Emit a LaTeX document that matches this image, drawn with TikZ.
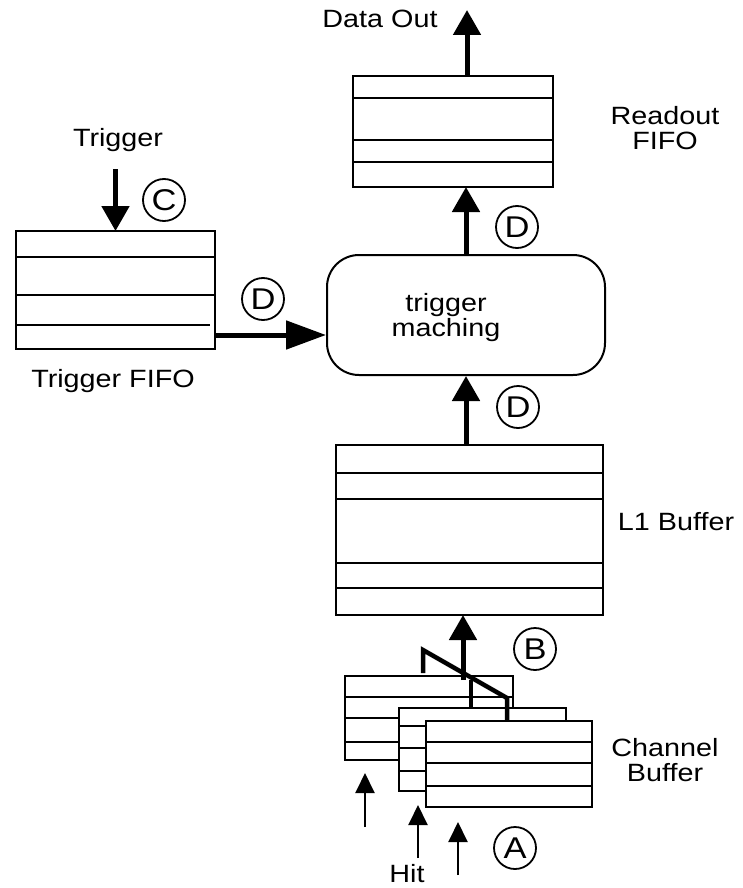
\documentclass[tikz,border=0pt]{standalone}
\usepackage{fontspec}
\setmainfont{Liberation Sans}[FakeStretch=1.15]
\usetikzlibrary{arrows.meta, positioning}

\tikzset{
  fifo/.style={draw, line width=2.5pt, fill=white, inner sep=0pt, outer sep=0pt, anchor=north west},
  row/.style={line width=2pt},
  tag/.style={draw, circle, line width=1.8pt, minimum size=42pt, inner sep=0pt, font=\fontsize{30}{30}\selectfont},
  flow/.style={line width=5pt, -{Triangle[length=25pt,width=27pt]}},
  hit/.style={line width=2pt, -{Triangle[length=20pt,width=19pt]}},
  lbl/.style={align=center, font=\fontsize{25}{25}\selectfont},
}

\begin{document}
\begin{tikzpicture}[x=1pt, y=-1pt]
  \useasboundingbox (0,0) rectangle (743,888);

  % readout FIFO
  \node[fifo, minimum width=200pt, minimum height=111pt] (readout) at (353,76) {};
  \foreach \d in {22,64,86} {
    \draw[row] ([yshift=-\d pt]readout.north west) -- ([yshift=-\d pt]readout.north east);
  }
  \node[lbl] (readoutlbl) at (665,128) {Readout\\FIFO};
  \coordinate (dataout) at (467,10);
  \node[lbl] (dataoutlbl) at (380,19) {Data Out};
  \draw[flow] (readout.north -| dataout) -- (dataout);

  % trigger FIFO
  \node[fifo, minimum width=199pt, minimum height=118pt] (trigfifo) at (16,231) {};
  \foreach \d in {26,64} {
    \draw[row] ([yshift=-\d pt]trigfifo.north west) -- ([yshift=-\d pt]trigfifo.north east);
  }
  \draw[row] ([yshift=-94pt]trigfifo.north west) -- ([yshift=-94pt,xshift=-5pt]trigfifo.north east);
  \node[lbl] (trigfifolbl) at (113,381) {Trigger FIFO};
  \node[lbl] (trigger) at (118,140) {Trigger};
  \draw[flow] ([yshift=-14pt]trigger.south -| trigfifo.north) -- (trigfifo.north);
  \node[tag] (tagc) at (164,200) {C};

  % trigger matching
  \node[draw, line width=2pt, rounded corners=32pt, minimum width=278pt, minimum height=120pt] (match) at (466,315) {};
  \node[lbl] (matchlbl) at ([xshift=-20pt,yshift=-3pt]match.center) {trigger\\maching};
  \draw[flow, -{Triangle[length=40pt,width=28pt]}] ([yshift=-45pt]trigfifo.east) coordinate (tfout) -- (tfout -| match.west);
  \node[tag] (tagd1) at (263,299) {D};
  \draw[flow] (match.north) -- (readout.south -| match.north);
  \node[tag] (tagd2) at (517,227) {D};

  % L1 buffer
  \node[fifo, minimum width=267pt, minimum height=170pt] (l1buf) at (336,445) {};
  \foreach \d in {28,54,118,143} {
    \draw[row] ([yshift=-\d pt]l1buf.north west) -- ([yshift=-\d pt]l1buf.north east);
  }
  \node[lbl] (l1buflbl) at (676,522) {L1 Buffer};
  \draw[flow] (l1buf.north -| match.south) -- (match.south);
  \node[tag] (tagd3) at (518,407) {D};

  % channel buffers
  \node[fifo, minimum width=168pt, minimum height=84pt] (chbufa) at (345,676) {};
  \foreach \d in {21,42,66} {
    \draw[row] ([yshift=-\d pt]chbufa.north west) -- ([yshift=-\d pt]chbufa.north east);
  }
  \node[fifo, minimum width=167pt, minimum height=83pt] (chbufb) at (399,708) {};
  \foreach \d in {18,40,63} {
    \draw[row] ([yshift=-\d pt]chbufb.north west) -- ([yshift=-\d pt]chbufb.north east);
  }
  \node[fifo, minimum width=166pt, minimum height=86pt] (chbufc) at (426,721) {};
  \foreach \d in {21,42,65} {
    \draw[row] ([yshift=-\d pt]chbufc.north west) -- ([yshift=-\d pt]chbufc.north east);
  }
  \node[lbl] (chbuflbl) at (665,760) {Channel\\Buffer};

  % multiplexer
  \coordinate (muxout) at (463,680);
  \draw[line width=4.5pt] (423,673) -- (423,650) -- (507,698) -- (chbufc.north -| 507,0);
  \draw[line width=4.5pt] (471,680) -- (chbufb.north -| 471,0);
  \draw[flow] (muxout) -- (l1buf.south -| muxout);
  \node[tag] (tagb) at (535,649) {B};

  % hits
  \coordinate (hita) at (365,827);
  \coordinate (hitb) at (418,858);
  \coordinate (hitc) at (458,875);
  \draw[hit] (hita) -- ++(0,-54);
  \draw[hit] (hitb) -- ++(0,-53);
  \draw[hit] (hitc) -- ++(0,-53);
  \node[lbl] (hitlbl) at (407,874) {Hit};
  \node[tag] (taga) at (515,848) {A};
\end{tikzpicture}
\end{document}
